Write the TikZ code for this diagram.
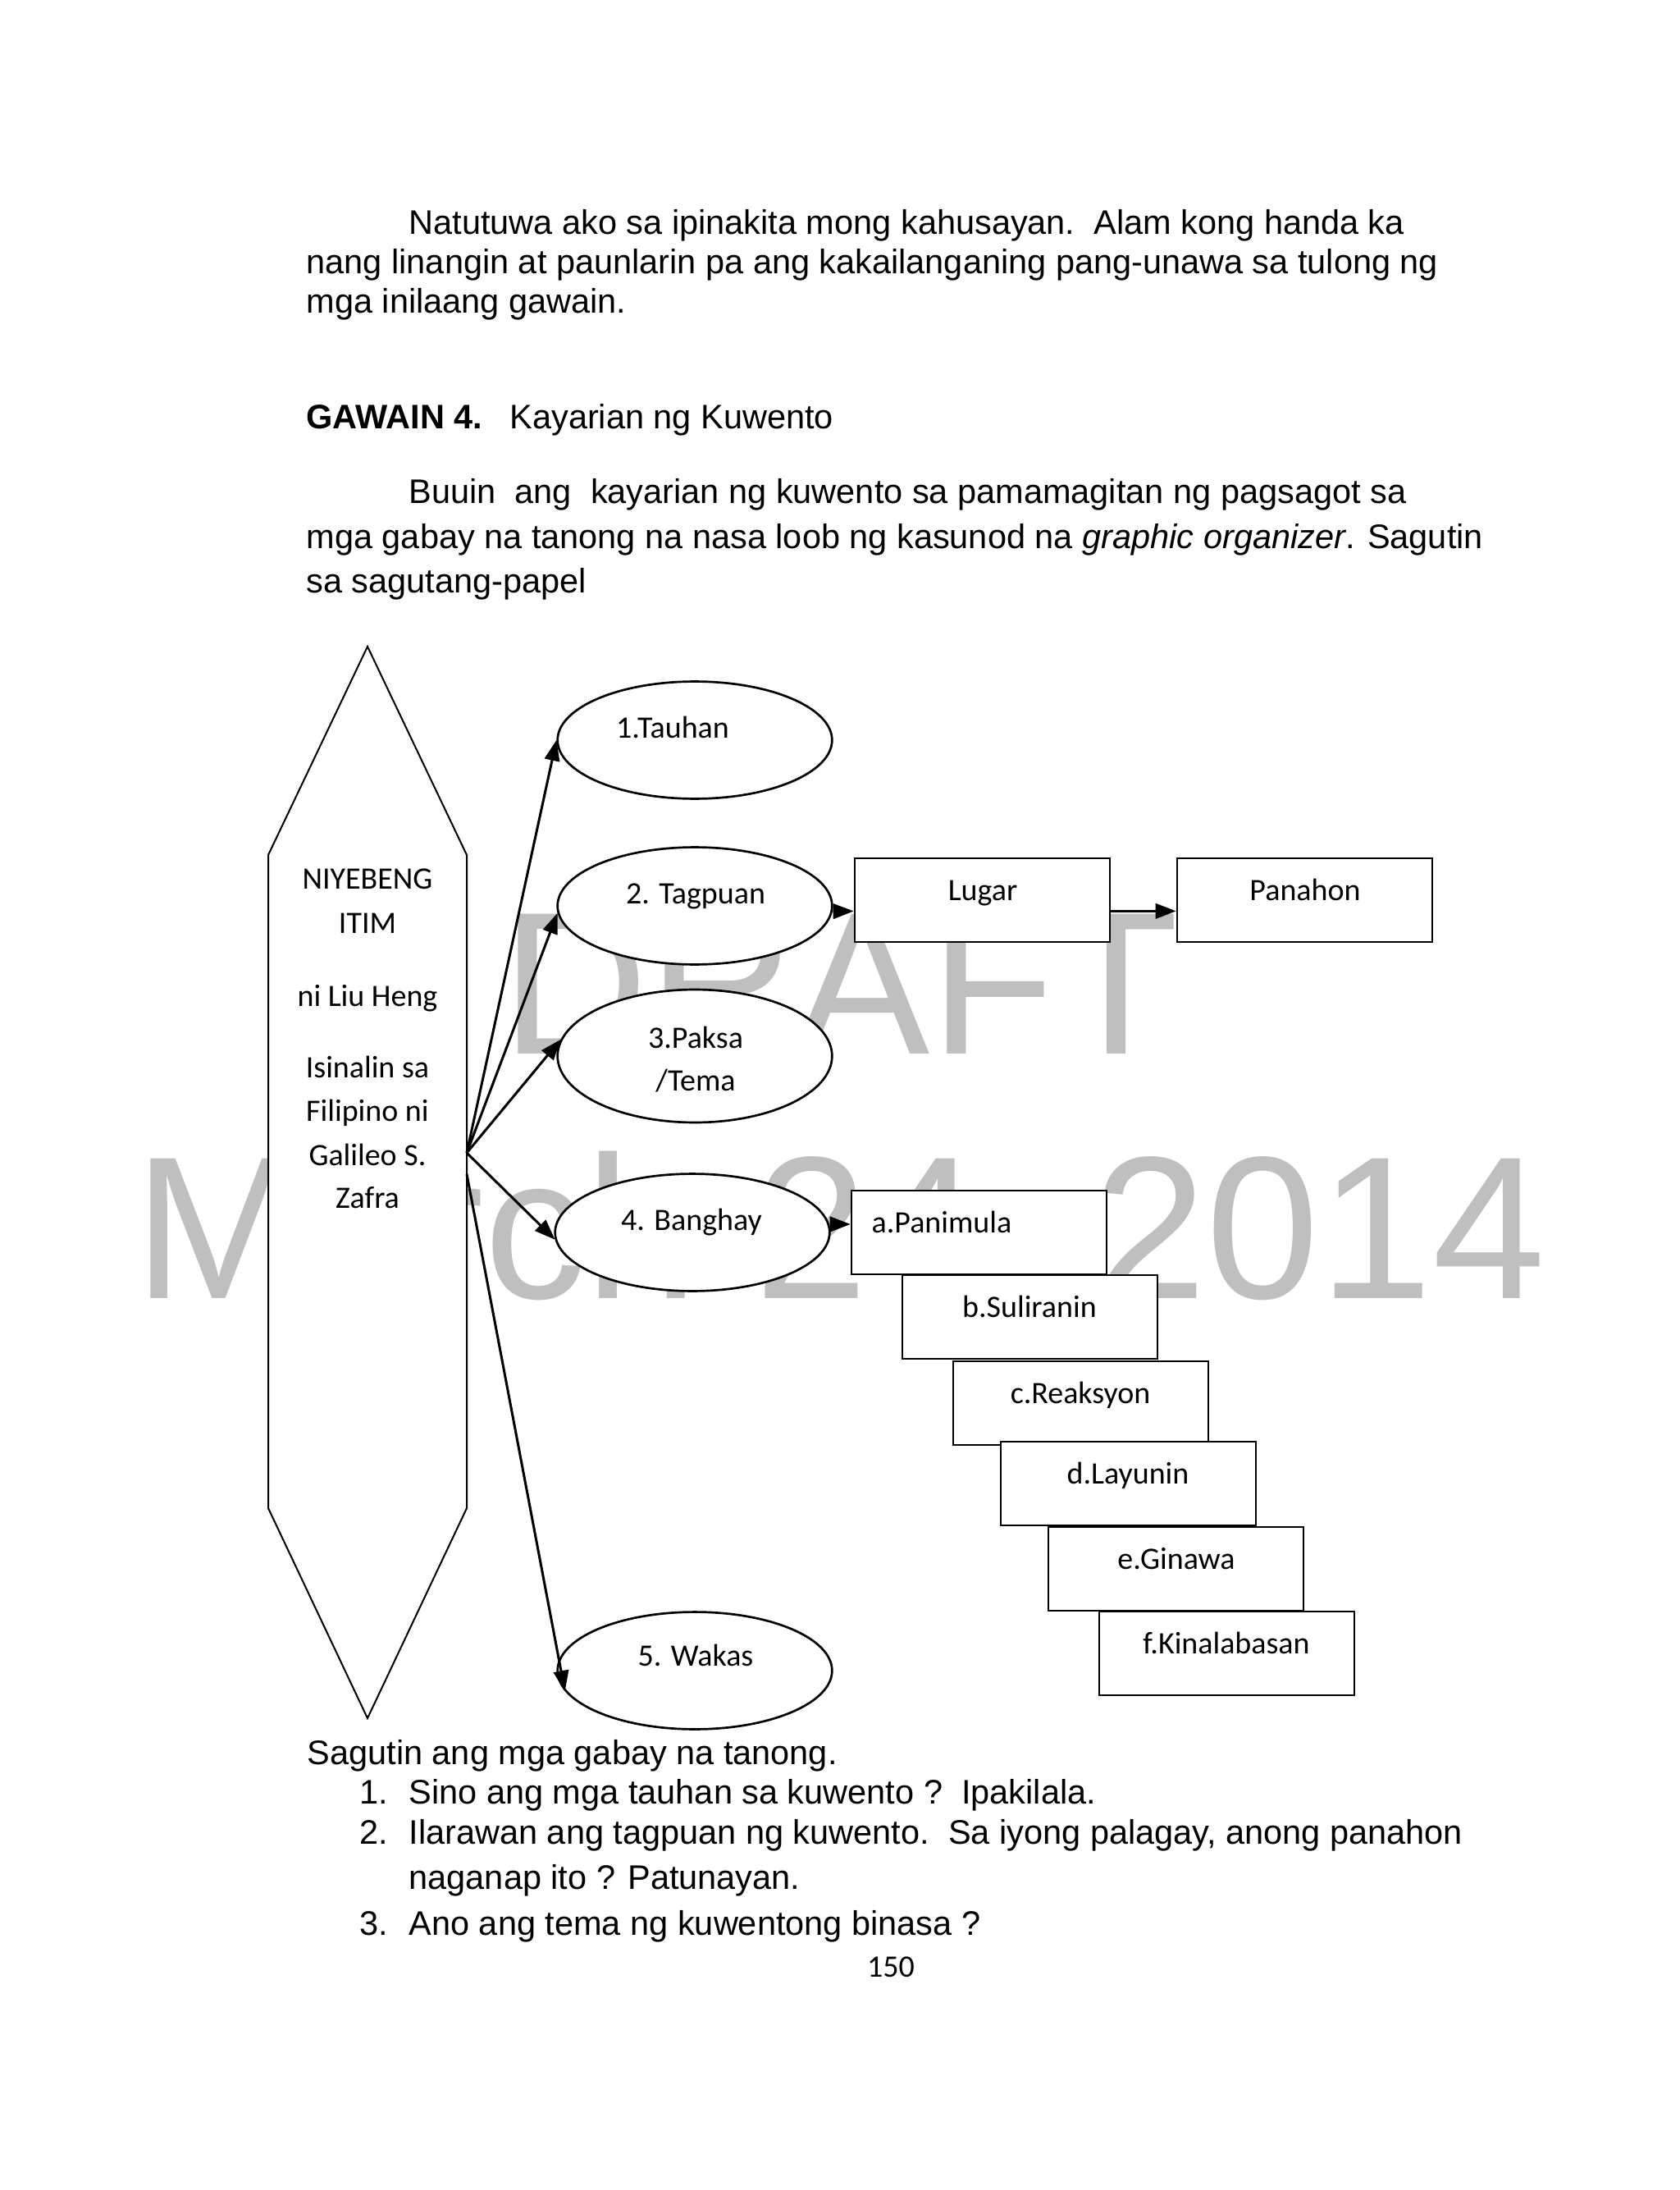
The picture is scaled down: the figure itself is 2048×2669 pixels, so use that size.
\documentclass[tikz,border=0pt]{standalone}
\usepackage{fontspec}
\setmainfont{Liberation Sans}
\newfontfamily\calib{Carlito}
\usetikzlibrary{arrows.meta,shapes,positioning}

\begin{document}
\begin{tikzpicture}[x=0.29883pt, y=-0.29883pt,
    body/.style={anchor=base west, inner sep=0, font=\fontsize{12.4}{14}\selectfont},
    lbl/.style={anchor=base, inner sep=0, font=\calib\fontsize{11.35}{13}\selectfont},
    oval/.style={draw, ellipse, fill=white, line width=0.8pt, minimum width=100pt, inner sep=0},
    stepbox/.style={draw, rectangle, fill=white, line width=0.8pt, minimum width=92.9pt, minimum height=30.5pt, inner sep=0},
    arr/.style={-{Triangle[length=7.5pt,width=5.5pt]}, line width=0.9pt},
    wmark/.style={anchor=base, inner sep=0, text=black!25, font=\fontsize{74}{80}\selectfont}]

  \useasboundingbox (0,0) rectangle (2048,2669);

  % watermark
  \node[wmark] (wm1) at (1024,1284) {DRAFT};
  \node[wmark] (wm2) at (1024,1582) {March 24, 2014};

  % text above the organizer
  \foreach \x/\y/\txt [count=\k] in {498/286/{Natutuwa ako sa ipinakita mong kahusayan.\ \ Alam kong handa ka},
      373/334/{nang linangin at paunlarin pa ang kakailanganing pang-unawa sa tulong ng},
      373/382/{mga inilaang gawain.},
      373/523/{\textbf{GAWAIN 4.}\hspace{10pt}Kayarian ng Kuwento},
      498/613/{Buuin\ \ ang\ \ kayarian ng kuwento sa pamamagitan ng pagsagot sa},
      373/668/{mga gabay na tanong na nasa loob ng kasunod na \textit{graphic organizer}. Sagutin},
      373/722/{sa sagutang-papel}} {
      \node[body] (top\k) at (\x,\y) {\txt};
  }

  % the story
  \draw[line width=0.6pt, fill=white] (448,788) -- (569,1042) -- (569,1838) -- (448,2094)
      -- (327,1838) -- (327,1042) -- cycle;
  \foreach \y/\txt [count=\k] in {1083/NIYEBENG, 1137/ITIM, 1226/ni Liu Heng, 1313/Isinalin sa,
      1366/Filipino ni, 1420/Galileo S., 1472/Zafra} {
      \node[lbl] (ttl\k) at (448,\y) {\txt};
  }
  \coordinate (src) at (569,1405);
  \coordinate (src2) at (569,1431);

  % parts
  \foreach \x/\y/\h/\name in {847/902/42.7/tauhan, 847/1104/42.7/tagpuan, 847/1287/48.4/paksa,
      844/1502/42.7/banghay, 847/2036/42.7/wakas} {
      \node[oval, minimum height=\h pt] (\name) at (\x,\y) {};
  }
  \foreach \x/\y/\txt [count=\k] in {820/899/1.Tauhan, 848/1101/2. Tagpuan, 848/1277/3.Paksa,
      848/1329/{/Tema}, 843/1499/4. Banghay, 848/2030/5. Wakas} {
      \node[lbl] (ol\k) at (\x,\y) {\txt};
  }

  \node[stepbox] (lugar) at (1197.5,1097) {};
  \node[lbl] (lugarT) at (1198,1097) {Lugar};
  \node[stepbox] (panahon) at (1590.5,1097) {};
  \node[lbl] (panahonT) at (1591,1097) {Panahon};

  \foreach \x/\y/\tx/\name/\txt in {1193.5/1502/1148/pa/a.Panimula, 1255.5/1605/1255/su/b.Suliranin,
      1317.5/1710/1317/re/c.Reaksyon, 1375.5/1808/1375/la/d.Layunin,
      1433.5/1912/1434/gi/e.Ginawa, 1495.5/2015/1495/ki/f.Kinalabasan} {
      \node[stepbox] (\name) at (\x,\y) {};
      \node[lbl] (\name T) at (\tx,\y) {\txt};
  }

  \draw[arr] (src) -- (tauhan.west);
  \draw[arr] (src) -- (tagpuan.183);
  \draw[arr] (src) -- (paksa.173);
  \draw[arr] (src) -- (banghay.183);
  \draw[arr] (src2) -- (wakas.189);
  \draw[arr] ([yshift=-2pt]tagpuan.east) -- ([yshift=-4pt]lugar.west);
  \draw[arr] ([yshift=-4pt]lugar.east) -- ([yshift=-4pt]panahon.west);
  \draw[arr] ([yshift=3pt]banghay.east) -- ([yshift=3pt]pa.west);

  % questions
  \foreach \x/\y/\txt [count=\k] in {374/2150/{Sagutin ang mga gabay na tanong.},
      438/2198/1., 498/2198/{Sino ang mga tauhan sa kuwento ?\ \ Ipakilala.},
      438/2247/2., 498/2247/{Ilarawan ang tagpuan ng kuwento.\ \ Sa iyong palagay, anong panahon},
      498/2302/{naganap ito ? Patunayan.},
      438/2358/3., 498/2358/{Ano ang tema ng kuwentong binasa ?}} {
      \node[body] (q\k) at (\x,\y) {\txt};
  }
  \node[lbl] (pnum) at (1086,2409) {150};

\end{tikzpicture}
\end{document}
